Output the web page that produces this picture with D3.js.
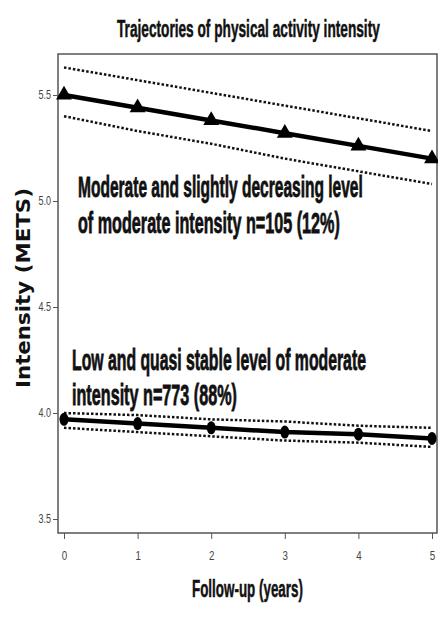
<!DOCTYPE html>
<html>
<head>
<meta charset="utf-8">
<script src="https://cdn.jsdelivr.net/npm/d3@7"></script>
<style>
  body { margin: 0; background: #fff; }
  svg { display: block; }
</style>
</head>
<body>
<svg width="438" height="619"></svg>
<script>
// follow-up years
var years = [0, 1, 2, 3, 4, 5];

// moderate, slightly decreasing group
var modMean  = [5.50, 5.44, 5.38, 5.32, 5.26, 5.20];
var modUpper = [5.63, 5.57, 5.51, 5.45, 5.39, 5.33];
var modLower = [5.40, 5.33, 5.27, 5.20, 5.14, 5.08];

// low, quasi stable group
var lowMean  = [3.97, 3.95, 3.93, 3.91, 3.90, 3.88];
var lowUpper = [4.00, 3.99, 3.97, 3.96, 3.94, 3.93];
var lowLower = [3.93, 3.91, 3.89, 3.87, 3.86, 3.84];

var yTicks = [3.5, 4.0, 4.5, 5.0, 5.5];

var svg = d3.select("svg");

// plot box
var box = {left: 58, top: 54, right: 437, bottom: 533};

var xScale = d3.scaleLinear().domain([0, 5]).range([64, 432]);
var yScale = d3.scaleLinear().domain([3.5, 5.5]).range([519, 95]);

svg.append("rect")
  .attr("x", box.left).attr("y", box.top)
  .attr("width", box.right - box.left).attr("height", box.bottom - box.top)
  .attr("fill", "none").attr("stroke", "#555").attr("stroke-width", 1.5);

// squeeze a text horizontally so it looks like the narrow font of the original
function squeeze(sel, sx, anchorX) {
  sel.each(function() {
    var t = d3.select(this);
    var x = anchorX;
    t.attr("transform", "translate(" + x + ",0) scale(" + sx + ",1) translate(" + (-x) + ",0)");
  });
}

// axes
var yAxis = svg.append("g")
  .attr("transform", "translate(" + box.left + ",0)")
  .call(d3.axisLeft(yScale).tickValues(yTicks).tickFormat(d3.format(".1f")).tickSize(5).tickPadding(2));
yAxis.select(".domain").remove();
yAxis.selectAll("line").attr("stroke", "#555");
yAxis.selectAll("text")
  .style("font-family", "Liberation Sans, Arial, sans-serif")
  .style("font-size", "12px").attr("fill", "#444")
  .call(squeeze, 0.75, -7);

var xAxis = svg.append("g")
  .attr("transform", "translate(0," + box.bottom + ")")
  .call(d3.axisBottom(xScale).tickValues(years).tickFormat(d3.format("d")).tickSize(6).tickPadding(12));
xAxis.select(".domain").remove();
xAxis.selectAll("line").attr("stroke", "#555");
xAxis.selectAll("text")
  .style("font-family", "Liberation Sans, Arial, sans-serif")
  .style("font-size", "13px").attr("fill", "#444")
  .call(squeeze, 0.75, 0);

// lines
var line = function(vals) {
  return d3.line()
    .x(function(d, i) { return xScale(years[i]); })
    .y(function(d) { return yScale(d); })(vals);
};

[modUpper, modLower, lowUpper, lowLower].forEach(function(s) {
  svg.append("path")
    .attr("d", line(s))
    .attr("fill", "none").attr("stroke", "#111")
    .attr("stroke-width", 2.5).attr("stroke-dasharray", "2.5,2");
});

[modMean, lowMean].forEach(function(s) {
  svg.append("path")
    .attr("d", line(s))
    .attr("fill", "none").attr("stroke", "#000")
    .attr("stroke-width", 4.5);
});

svg.selectAll(".tri")
  .data(modMean)
  .enter().append("path")
  .attr("transform", function(d, i) { return "translate(" + xScale(years[i]) + "," + yScale(d) + ")"; })
  .attr("d", d3.symbol().type(d3.symbolTriangle).size(110))
  .attr("fill", "#000");

svg.selectAll(".dot")
  .data(lowMean)
  .enter().append("ellipse")
  .attr("cx", function(d, i) { return xScale(years[i]); })
  .attr("cy", function(d) { return yScale(d); })
  .attr("rx", 4.5).attr("ry", 6.5)
  .attr("fill", "#000");

// texts, fitted to the width they have in the picture
function label(x, y, str, size, width, weight) {
  var t = svg.append("text")
    .attr("x", 0).attr("y", 0)
    .style("font-family", "Liberation Sans, Arial, sans-serif")
    .style("font-weight", "bold")
    .style("font-size", size + "px")
    .attr("fill", "#111")
    .attr("stroke", "#111")
    .attr("stroke-width", weight || 0.8)
    .text(str);
  var w = t.node().getComputedTextLength();
  t.attr("transform", "translate(" + x + "," + y + ") scale(" + (width / w) + ",1)");
}

label(117, 37, "Trajectories of physical activity intensity", 23, 263, 0.5);
label(78, 197, "Moderate and slightly decreasing level", 30, 285);
label(78, 233, "of moderate intensity n=105 (12%)", 30, 262);
label(72, 370, "Low and quasi stable level of moderate", 30, 294);
label(72, 405, "intensity n=773 (88%)", 30, 165);
label(192, 597, "Follow-up (years)", 23, 111, 0.5);

var yt = svg.append("text")
  .style("font-family", "DejaVu Sans")
  .style("font-weight", "bold")
  .style("font-size", "20px")
  .attr("fill", "#111")
  .text("Intensity (METS)");
var yw = yt.node().getComputedTextLength();
yt.attr("transform", "translate(30,388) rotate(-90) scale(" + (200 / yw) + ",1)");
</script>
</body>
</html>
